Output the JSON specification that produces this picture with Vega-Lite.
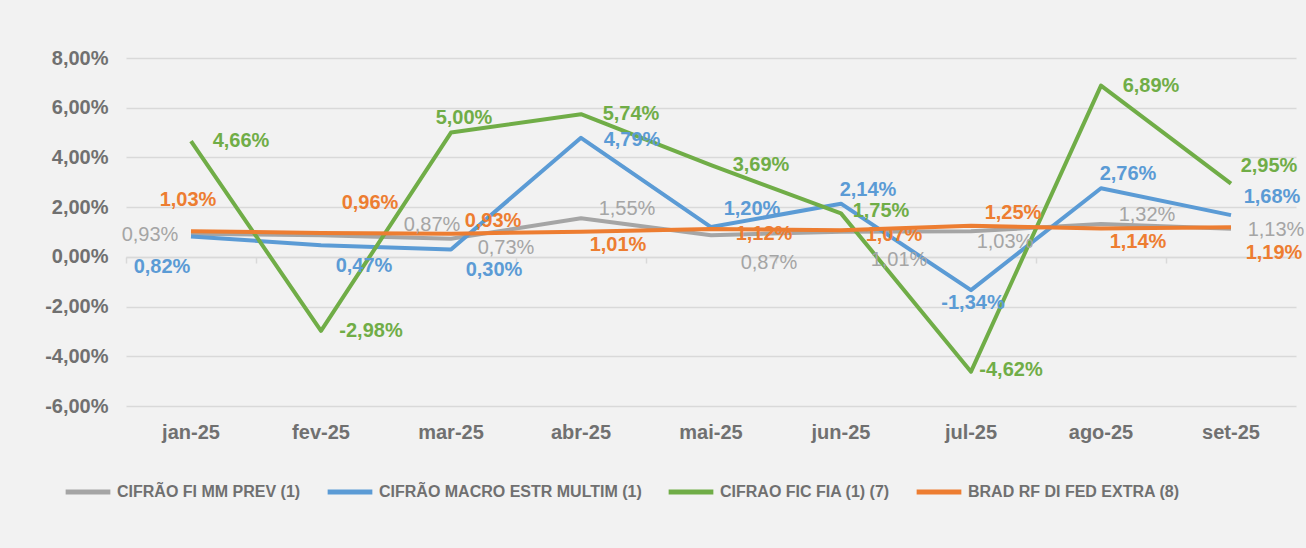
{
  "$schema": "https://vega.github.io/schema/vega-lite/v6.json",
  "width": 1170,
  "height": 348,
  "autosize": "none",
  "padding": {"left": 126, "top": 58, "right": 10, "bottom": 142},
  "background": "#f2f2f2",
  "config": {
    "view": {"stroke": null},
    "font": "Liberation Sans",
    "locale": {"number": {"decimal": ",", "thousands": ".", "grouping": [3], "currency": ["R$", ""], "minus": "-"}}
  },
  "data": {"values": [
    {"mes": "jan-25", "serie": "CIFRÃO FI MM PREV (1)", "v": 0.0093},
    {"mes": "fev-25", "serie": "CIFRÃO FI MM PREV (1)", "v": 0.0087},
    {"mes": "mar-25", "serie": "CIFRÃO FI MM PREV (1)", "v": 0.0073},
    {"mes": "abr-25", "serie": "CIFRÃO FI MM PREV (1)", "v": 0.0155},
    {"mes": "mai-25", "serie": "CIFRÃO FI MM PREV (1)", "v": 0.0087},
    {"mes": "jun-25", "serie": "CIFRÃO FI MM PREV (1)", "v": 0.0101},
    {"mes": "jul-25", "serie": "CIFRÃO FI MM PREV (1)", "v": 0.0103},
    {"mes": "ago-25", "serie": "CIFRÃO FI MM PREV (1)", "v": 0.0132},
    {"mes": "set-25", "serie": "CIFRÃO FI MM PREV (1)", "v": 0.0113},
    {"mes": "jan-25", "serie": "CIFRÃO MACRO ESTR MULTIM (1)", "v": 0.0082},
    {"mes": "fev-25", "serie": "CIFRÃO MACRO ESTR MULTIM (1)", "v": 0.0047},
    {"mes": "mar-25", "serie": "CIFRÃO MACRO ESTR MULTIM (1)", "v": 0.0030},
    {"mes": "abr-25", "serie": "CIFRÃO MACRO ESTR MULTIM (1)", "v": 0.0479},
    {"mes": "mai-25", "serie": "CIFRÃO MACRO ESTR MULTIM (1)", "v": 0.0120},
    {"mes": "jun-25", "serie": "CIFRÃO MACRO ESTR MULTIM (1)", "v": 0.0214},
    {"mes": "jul-25", "serie": "CIFRÃO MACRO ESTR MULTIM (1)", "v": -0.0134},
    {"mes": "ago-25", "serie": "CIFRÃO MACRO ESTR MULTIM (1)", "v": 0.0276},
    {"mes": "set-25", "serie": "CIFRÃO MACRO ESTR MULTIM (1)", "v": 0.0168},
    {"mes": "jan-25", "serie": "CIFRAO FIC FIA (1) (7)", "v": 0.0466},
    {"mes": "fev-25", "serie": "CIFRAO FIC FIA (1) (7)", "v": -0.0298},
    {"mes": "mar-25", "serie": "CIFRAO FIC FIA (1) (7)", "v": 0.0500},
    {"mes": "abr-25", "serie": "CIFRAO FIC FIA (1) (7)", "v": 0.0574},
    {"mes": "mai-25", "serie": "CIFRAO FIC FIA (1) (7)", "v": 0.0369},
    {"mes": "jun-25", "serie": "CIFRAO FIC FIA (1) (7)", "v": 0.0175},
    {"mes": "jul-25", "serie": "CIFRAO FIC FIA (1) (7)", "v": -0.0462},
    {"mes": "ago-25", "serie": "CIFRAO FIC FIA (1) (7)", "v": 0.0689},
    {"mes": "set-25", "serie": "CIFRAO FIC FIA (1) (7)", "v": 0.0295},
    {"mes": "jan-25", "serie": "BRAD RF DI FED EXTRA (8)", "v": 0.0103},
    {"mes": "fev-25", "serie": "BRAD RF DI FED EXTRA (8)", "v": 0.0096},
    {"mes": "mar-25", "serie": "BRAD RF DI FED EXTRA (8)", "v": 0.0093},
    {"mes": "abr-25", "serie": "BRAD RF DI FED EXTRA (8)", "v": 0.0101},
    {"mes": "mai-25", "serie": "BRAD RF DI FED EXTRA (8)", "v": 0.0112},
    {"mes": "jun-25", "serie": "BRAD RF DI FED EXTRA (8)", "v": 0.0107},
    {"mes": "jul-25", "serie": "BRAD RF DI FED EXTRA (8)", "v": 0.0125},
    {"mes": "ago-25", "serie": "BRAD RF DI FED EXTRA (8)", "v": 0.0114},
    {"mes": "set-25", "serie": "BRAD RF DI FED EXTRA (8)", "v": 0.0119}
  ]},
  "encoding": {
    "x": {"field": "mes", "type": "nominal", "sort": null, "axis": null,
          "scale": {"type": "band", "paddingInner": 0, "paddingOuter": 0}},
    "y": {"field": "v", "type": "quantitative",
          "scale": {"domain": [-0.06, 0.08], "nice": false, "zero": false},
          "axis": {"title": null, "values": [-0.06, -0.04, -0.02, 0, 0.02, 0.04, 0.06, 0.08], "format": ".2%",
                   "domain": false, "ticks": false, "tickSize": 0, "labelPadding": 18,
                   "labelFontSize": 20, "labelFontWeight": "bold", "labelColor": "#707070",
                   "grid": true, "gridColor": "#d9d9d9", "gridWidth": 1.5}}
  },
  "resolve": {"axis": {"x": "independent"}},
  "layer": [
    {
      "mark": {"type": "rule", "opacity": 0},
      "encoding": {
        "x": {"field": "mes", "type": "nominal", "sort": null,
              "scale": {"type": "band", "paddingInner": 0, "paddingOuter": 0},
              "axis": {"title": null, "orient": "bottom", "offset": -149, "labels": false, "domain": true,
                       "domainColor": "#d9d9d9", "domainWidth": 1.5, "grid": false,
                       "ticks": true, "tickSize": 6, "tickColor": "#d9d9d9", "tickWidth": 1.5, "bandPosition": 0}}
      }
    },
    {
      "mark": {"type": "line", "strokeWidth": 4, "strokeJoin": "round", "strokeCap": "butt"},
      "encoding": {
        "x": {"field": "mes", "type": "nominal", "sort": null,
              "scale": {"type": "band", "paddingInner": 0, "paddingOuter": 0},
              "axis": {"title": null, "orient": "bottom", "domain": false, "ticks": false, "tickSize": 0, "labelPadding": 16, "grid": false,
                       "labelFontSize": 20, "labelFontWeight": "bold", "labelColor": "#707070", "labelAngle": 0}},
        "color": {"field": "serie", "type": "nominal", "sort": null,
                  "scale": {"domain": ["CIFRÃO FI MM PREV (1)", "CIFRÃO MACRO ESTR MULTIM (1)", "CIFRAO FIC FIA (1) (7)", "BRAD RF DI FED EXTRA (8)"],
                            "range": ["#a5a5a5", "#5b9bd5", "#70ad47", "#ed7d31"]},
                  "legend": {"title": null, "orient": "none", "legendX": -63, "legendY": 409, "direction": "horizontal",
                             "columns": 4, "symbolType": "stroke", "symbolStrokeWidth": 5, "symbolSize": 2000,
                             "labelFontSize": 16, "labelFontWeight": "bold", "labelColor": "#707070",
                             "labelOffset": 4, "columnPadding": 16, "labelLimit": 400}}
      }
    },
    {"transform": [{"filter": {"field": "serie", "equal": "CIFRAO FIC FIA (1) (7)"}}, {"filter": {"field": "mes", "oneOf": ["jan-25", "fev-25", "abr-25", "mai-25", "ago-25"]}}],
     "mark": {"type": "text", "fontSize": 20, "fontWeight": "bold", "color": "#70ad47", "dx": 50, "dy": 0}, "encoding": {"text": {"field": "v", "format": ".2%"}}},
    {"transform": [{"filter": {"field": "serie", "equal": "CIFRAO FIC FIA (1) (7)"}}, {"filter": {"field": "mes", "oneOf": ["jun-25", "jul-25"]}}],
     "mark": {"type": "text", "fontSize": 20, "fontWeight": "bold", "color": "#70ad47", "dx": 40, "dy": -2}, "encoding": {"text": {"field": "v", "format": ".2%"}}},
    {"transform": [{"filter": {"field": "serie", "equal": "CIFRAO FIC FIA (1) (7)"}}, {"filter": {"field": "mes", "oneOf": ["mar-25"]}}],
     "mark": {"type": "text", "fontSize": 20, "fontWeight": "bold", "color": "#70ad47", "dx": 13, "dy": -15}, "encoding": {"text": {"field": "v", "format": ".2%"}}},
    {"transform": [{"filter": {"field": "serie", "equal": "CIFRAO FIC FIA (1) (7)"}}, {"filter": {"field": "mes", "oneOf": ["set-25"]}}],
     "mark": {"type": "text", "fontSize": 20, "fontWeight": "bold", "color": "#70ad47", "dx": 38, "dy": -18}, "encoding": {"text": {"field": "v", "format": ".2%"}}},

    {"transform": [{"filter": {"field": "serie", "equal": "CIFRÃO MACRO ESTR MULTIM (1)"}}, {"filter": {"field": "mes", "oneOf": ["jan-25"]}}],
     "mark": {"type": "text", "fontSize": 20, "fontWeight": "bold", "color": "#5b9bd5", "dx": -29, "dy": 31}, "encoding": {"text": {"field": "v", "format": ".2%"}}},
    {"transform": [{"filter": {"field": "serie", "equal": "CIFRÃO MACRO ESTR MULTIM (1)"}}, {"filter": {"field": "mes", "oneOf": ["fev-25", "mar-25"]}}],
     "mark": {"type": "text", "fontSize": 20, "fontWeight": "bold", "color": "#5b9bd5", "dx": 43, "dy": 21}, "encoding": {"text": {"field": "v", "format": ".2%"}}},
    {"transform": [{"filter": {"field": "serie", "equal": "CIFRÃO MACRO ESTR MULTIM (1)"}}, {"filter": {"field": "mes", "oneOf": ["abr-25"]}}],
     "mark": {"type": "text", "fontSize": 20, "fontWeight": "bold", "color": "#5b9bd5", "dx": 51, "dy": 2}, "encoding": {"text": {"field": "v", "format": ".2%"}}},
    {"transform": [{"filter": {"field": "serie", "equal": "CIFRÃO MACRO ESTR MULTIM (1)"}}, {"filter": {"field": "mes", "oneOf": ["mai-25", "set-25"]}}],
     "mark": {"type": "text", "fontSize": 20, "fontWeight": "bold", "color": "#5b9bd5", "dx": 41, "dy": -18}, "encoding": {"text": {"field": "v", "format": ".2%"}}},
    {"transform": [{"filter": {"field": "serie", "equal": "CIFRÃO MACRO ESTR MULTIM (1)"}}, {"filter": {"field": "mes", "oneOf": ["jun-25", "ago-25"]}}],
     "mark": {"type": "text", "fontSize": 20, "fontWeight": "bold", "color": "#5b9bd5", "dx": 27, "dy": -14}, "encoding": {"text": {"field": "v", "format": ".2%"}}},
    {"transform": [{"filter": {"field": "serie", "equal": "CIFRÃO MACRO ESTR MULTIM (1)"}}, {"filter": {"field": "mes", "oneOf": ["jul-25"]}}],
     "mark": {"type": "text", "fontSize": 20, "fontWeight": "bold", "color": "#5b9bd5", "dx": 2, "dy": 13}, "encoding": {"text": {"field": "v", "format": ".2%"}}},

    {"transform": [{"filter": {"field": "serie", "equal": "BRAD RF DI FED EXTRA (8)"}}, {"filter": {"field": "mes", "oneOf": ["jan-25"]}}],
     "mark": {"type": "text", "fontSize": 20, "fontWeight": "bold", "color": "#ed7d31", "dx": -3, "dy": -31}, "encoding": {"text": {"field": "v", "format": ".2%"}}},
    {"transform": [{"filter": {"field": "serie", "equal": "BRAD RF DI FED EXTRA (8)"}}, {"filter": {"field": "mes", "oneOf": ["fev-25"]}}],
     "mark": {"type": "text", "fontSize": 20, "fontWeight": "bold", "color": "#ed7d31", "dx": 49, "dy": -30}, "encoding": {"text": {"field": "v", "format": ".2%"}}},
    {"transform": [{"filter": {"field": "serie", "equal": "BRAD RF DI FED EXTRA (8)"}}, {"filter": {"field": "mes", "oneOf": ["mar-25", "jul-25"]}}],
     "mark": {"type": "text", "fontSize": 20, "fontWeight": "bold", "color": "#ed7d31", "dx": 42, "dy": -13}, "encoding": {"text": {"field": "v", "format": ".2%"}}},
    {"transform": [{"filter": {"field": "serie", "equal": "BRAD RF DI FED EXTRA (8)"}}, {"filter": {"field": "mes", "oneOf": ["abr-25", "ago-25"]}}],
     "mark": {"type": "text", "fontSize": 20, "fontWeight": "bold", "color": "#ed7d31", "dx": 37, "dy": 13}, "encoding": {"text": {"field": "v", "format": ".2%"}}},
    {"transform": [{"filter": {"field": "serie", "equal": "BRAD RF DI FED EXTRA (8)"}}, {"filter": {"field": "mes", "oneOf": ["mai-25", "jun-25"]}}],
     "mark": {"type": "text", "fontSize": 20, "fontWeight": "bold", "color": "#ed7d31", "dx": 53, "dy": 5}, "encoding": {"text": {"field": "v", "format": ".2%"}}},
    {"transform": [{"filter": {"field": "serie", "equal": "BRAD RF DI FED EXTRA (8)"}}, {"filter": {"field": "mes", "oneOf": ["set-25"]}}],
     "mark": {"type": "text", "fontSize": 20, "fontWeight": "bold", "color": "#ed7d31", "dx": 43, "dy": 26}, "encoding": {"text": {"field": "v", "format": ".2%"}}},

    {"transform": [{"filter": {"field": "serie", "equal": "CIFRÃO FI MM PREV (1)"}}, {"filter": {"field": "mes", "oneOf": ["jan-25"]}}],
     "mark": {"type": "text", "fontSize": 20, "color": "#a5a5a5", "dx": -41, "dy": 1}, "encoding": {"text": {"field": "v", "format": ".2%"}}},
    {"transform": [{"filter": {"field": "serie", "equal": "CIFRÃO FI MM PREV (1)"}}, {"filter": {"field": "mes", "oneOf": ["fev-25"]}}],
     "mark": {"type": "text", "fontSize": 20, "color": "#a5a5a5", "dx": 111, "dy": -10}, "encoding": {"text": {"field": "v", "format": ".2%"}}},
    {"transform": [{"filter": {"field": "serie", "equal": "CIFRÃO FI MM PREV (1)"}}, {"filter": {"field": "mes", "oneOf": ["mar-25"]}}],
     "mark": {"type": "text", "fontSize": 20, "color": "#a5a5a5", "dx": 55, "dy": 9}, "encoding": {"text": {"field": "v", "format": ".2%"}}},
    {"transform": [{"filter": {"field": "serie", "equal": "CIFRÃO FI MM PREV (1)"}}, {"filter": {"field": "mes", "oneOf": ["abr-25", "ago-25"]}}],
     "mark": {"type": "text", "fontSize": 20, "color": "#a5a5a5", "dx": 46, "dy": -9}, "encoding": {"text": {"field": "v", "format": ".2%"}}},
    {"transform": [{"filter": {"field": "serie", "equal": "CIFRÃO FI MM PREV (1)"}}, {"filter": {"field": "mes", "oneOf": ["mai-25", "jun-25"]}}],
     "mark": {"type": "text", "fontSize": 20, "color": "#a5a5a5", "dx": 58, "dy": 28}, "encoding": {"text": {"field": "v", "format": ".2%"}}},
    {"transform": [{"filter": {"field": "serie", "equal": "CIFRÃO FI MM PREV (1)"}}, {"filter": {"field": "mes", "oneOf": ["jul-25"]}}],
     "mark": {"type": "text", "fontSize": 20, "color": "#a5a5a5", "dx": 34, "dy": 11}, "encoding": {"text": {"field": "v", "format": ".2%"}}},
    {"transform": [{"filter": {"field": "serie", "equal": "CIFRÃO FI MM PREV (1)"}}, {"filter": {"field": "mes", "oneOf": ["set-25"]}}],
     "mark": {"type": "text", "fontSize": 20, "color": "#a5a5a5", "dx": 45, "dy": 1}, "encoding": {"text": {"field": "v", "format": ".2%"}}}
  ]
}
